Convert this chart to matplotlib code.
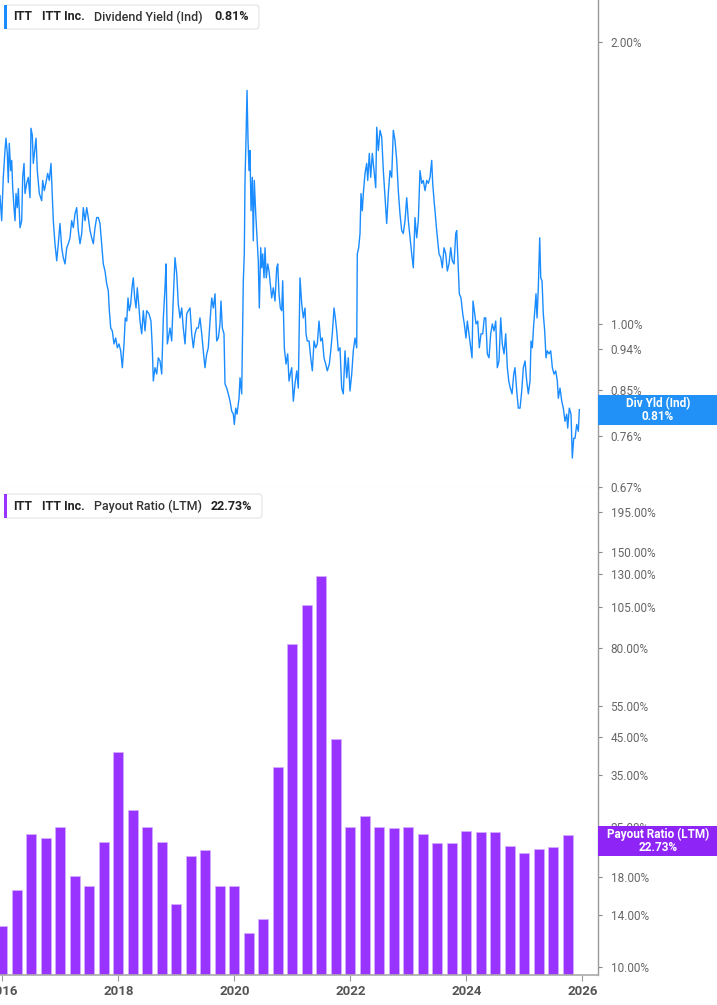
import numpy as np
import pandas as pd
import matplotlib
matplotlib.use("Agg")
import matplotlib.pyplot as plt
from matplotlib.patches import FancyBboxPatch, Rectangle
from matplotlib.ticker import NullLocator, FixedLocator

plt.rcParams["font.family"] = ["Roboto", "DejaVu Sans"]

# ---- dividend yield (%), dates as decimal years ----
div_years = [
    2015.960, 2015.989, 2016.017, 2016.046, 2016.063, 2016.086, 2016.103, 2016.120, 2016.144, 2016.162,
    2016.179, 2016.201, 2016.219, 2016.236, 2016.258, 2016.276, 2016.305, 2016.334, 2016.351, 2016.374,
    2016.391, 2016.420, 2016.448, 2016.477, 2016.494, 2016.517, 2016.534, 2016.563, 2016.581, 2016.603,
    2016.638, 2016.679, 2016.696, 2016.724, 2016.753, 2016.782, 2016.810, 2016.839, 2016.862, 2016.879,
    2016.908, 2016.938, 2016.965, 2016.994, 2017.024, 2017.051, 2017.081, 2017.110, 2017.138, 2017.167,
    2017.196, 2017.224, 2017.253, 2017.282, 2017.310, 2017.339, 2017.369, 2017.396, 2017.426, 2017.455,
    2017.482, 2017.512, 2017.541, 2017.569, 2017.598, 2017.627, 2017.655, 2017.684, 2017.713, 2017.741,
    2017.770, 2017.800, 2017.827, 2017.845, 2017.869, 2017.896, 2017.926, 2017.955, 2017.983, 2018.012,
    2018.041, 2018.069, 2018.098, 2018.120, 2018.145, 2018.167, 2018.189, 2018.213, 2018.236, 2018.258,
    2018.282, 2018.305, 2018.327, 2018.351, 2018.374, 2018.403, 2018.431, 2018.460,
    2018.489, 2018.529, 2018.563, 2018.586, 2018.603, 2018.632, 2018.662, 2018.689, 2018.719, 2018.748,
    2018.776, 2018.805, 2018.822, 2018.845, 2018.874, 2018.891, 2018.920, 2018.948, 2018.977, 2019.007,
    2019.034, 2019.063, 2019.093, 2019.120, 2019.150, 2019.179, 2019.207, 2019.236, 2019.265, 2019.293,
    2019.322, 2019.351, 2019.379, 2019.408, 2019.438, 2019.465, 2019.494, 2019.524, 2019.551, 2019.581,
    2019.610, 2019.638, 2019.667, 2019.696, 2019.724, 2019.753, 2019.770, 2019.793, 2019.822, 2019.839,
    2019.869, 2019.896, 2019.926, 2019.955, 2019.983, 2020.000, 2020.024, 2020.046, 2020.081, 2020.098,
    2020.127, 2020.155, 2020.172, 2020.184, 2020.201, 2020.219, 2020.236, 2020.253, 2020.270, 2020.288,
    2020.310, 2020.327, 2020.344, 2020.369, 2020.391, 2020.413, 2020.431, 2020.455, 2020.472, 2020.489,
    2020.512, 2020.529, 2020.551, 2020.576, 2020.598, 2020.620, 2020.644, 2020.672, 2020.701, 2020.731,
    2020.748, 2020.770, 2020.793, 2020.817, 2020.834, 2020.862, 2020.891, 2020.920, 2020.943, 2020.965,
    2020.989, 2021.017,
    2021.046, 2021.076, 2021.103, 2021.132, 2021.162, 2021.189, 2021.219, 2021.236, 2021.258, 2021.288,
    2021.317, 2021.345, 2021.374, 2021.403, 2021.431, 2021.460, 2021.489, 2021.517, 2021.546, 2021.576,
    2021.603, 2021.638, 2021.662, 2021.689, 2021.719, 2021.741, 2021.765, 2021.793, 2021.822, 2021.851,
    2021.879, 2021.908, 2021.938, 2021.965, 2021.994, 2022.024, 2022.051, 2022.081, 2022.110, 2022.120,
    2022.144, 2022.167, 2022.184, 2022.206, 2022.224, 2022.253, 2022.282, 2022.300, 2022.327, 2022.351,
    2022.379, 2022.408, 2022.438, 2022.455, 2022.483, 2022.512, 2022.541, 2022.569, 2022.598, 2022.627,
    2022.655, 2022.684, 2022.713, 2022.741, 2022.770, 2022.800, 2022.827, 2022.856, 2022.886, 2022.913,
    2022.943, 2022.972, 2023.000, 2023.029, 2023.058, 2023.086, 2023.115, 2023.144, 2023.172, 2023.201,
    2023.231, 2023.258, 2023.288, 2023.317, 2023.345, 2023.374, 2023.403, 2023.420, 2023.448,
    2023.460, 2023.489, 2023.529, 2023.559, 2023.586, 2023.615, 2023.645, 2023.672, 2023.701, 2023.731,
    2023.758, 2023.788, 2023.817, 2023.834, 2023.862, 2023.879, 2023.908, 2023.938, 2023.965, 2023.994,
    2024.017, 2024.046, 2024.076, 2024.098, 2024.115, 2024.138, 2024.167, 2024.196, 2024.224, 2024.253,
    2024.282, 2024.310, 2024.334, 2024.362, 2024.391, 2024.420, 2024.448, 2024.477, 2024.507, 2024.534,
    2024.563, 2024.593, 2024.620, 2024.650, 2024.679, 2024.707, 2024.731, 2024.758, 2024.788, 2024.817,
    2024.839, 2024.869, 2024.896, 2024.926, 2024.955, 2024.983, 2025.012, 2025.041, 2025.069, 2025.098,
    2025.115, 2025.138, 2025.162, 2025.184, 2025.201, 2025.219, 2025.241, 2025.265, 2025.283, 2025.305,
    2025.327, 2025.351, 2025.374, 2025.396, 2025.426, 2025.455, 2025.483, 2025.512, 2025.541, 2025.569,
    2025.586, 2025.615, 2025.645, 2025.672, 2025.701, 2025.731, 2025.748, 2025.775, 2025.805, 2025.827,
    2025.851, 2025.874, 2025.903, 2025.931, 2025.948,
]
div_yield = [
    1.371, 1.289, 1.435, 1.532, 1.579, 1.521, 1.416, 1.559, 1.458, 1.495,
    1.398, 1.331, 1.289, 1.378, 1.331, 1.395, 1.267, 1.289, 1.434, 1.484,
    1.378, 1.413, 1.434, 1.364, 1.618, 1.590, 1.484, 1.544, 1.579, 1.458,
    1.378, 1.354, 1.423, 1.388, 1.416, 1.448, 1.423, 1.484, 1.364, 1.289,
    1.218, 1.168, 1.218, 1.280, 1.206, 1.177, 1.159, 1.206, 1.218, 1.236,
    1.289, 1.267, 1.311, 1.331, 1.258, 1.218, 1.249, 1.331, 1.289, 1.331,
    1.299, 1.258, 1.236, 1.218, 1.267, 1.299, 1.299, 1.280, 1.218, 1.159,
    1.139, 1.104, 1.085, 1.033, 0.990, 0.983, 0.952, 0.966, 0.943, 0.952,
    0.936, 0.898, 0.952, 1.015, 1.007, 1.066, 1.033, 1.050, 1.093, 1.120,
    1.066, 1.040, 1.093, 1.050, 1.007, 0.976, 1.033, 0.983,
    1.033, 1.025, 1.007, 0.943, 0.869, 0.898, 0.884, 0.920, 0.913, 0.884,
    1.015, 1.093, 1.159, 0.952, 0.976, 0.990, 0.959, 1.066, 1.177, 1.131,
    1.050, 1.015, 1.040, 0.990, 0.952, 1.025, 1.033, 1.040, 0.976, 0.943,
    0.976, 0.990, 0.990, 1.015, 0.976, 0.936, 0.898, 0.929, 0.943, 1.007,
    1.066, 1.040, 1.077, 0.959, 0.966, 1.000, 1.058, 0.990, 0.976, 0.863,
    0.854, 0.842, 0.827, 0.807, 0.801, 0.781, 0.813, 0.801, 0.833, 0.876,
    0.842, 1.112, 1.188, 1.423, 1.571, 1.776, 1.571, 1.458, 1.532, 1.321,
    1.434, 1.227, 1.423, 1.311, 1.236, 1.168, 1.040, 1.206, 1.148, 1.188,
    1.120, 1.206, 1.120, 1.159, 1.139, 1.104, 1.066, 1.093, 1.058, 1.148,
    1.159, 1.077, 1.040, 1.033, 1.112, 0.943, 0.906, 0.929, 0.869, 0.884,
    0.898, 0.827,
    0.863, 0.891, 0.854, 1.120, 1.050, 1.015, 1.040, 0.976, 0.959, 0.959,
    0.920, 0.891, 0.959, 0.943, 0.952, 1.007, 0.959, 0.966, 0.920, 0.906,
    0.891, 0.906, 0.936, 0.976, 1.040, 1.015, 0.983, 0.936, 0.943, 0.854,
    0.842, 0.936, 0.876, 0.920, 0.848, 0.884, 0.936, 0.966, 0.943, 1.188,
    1.206, 1.249, 1.378, 1.321, 1.378, 1.448, 1.484, 1.423, 1.521, 1.434,
    1.521, 1.458, 1.398, 1.622, 1.532, 1.610, 1.583, 1.458, 1.364, 1.280,
    1.378, 1.458, 1.434, 1.610, 1.571, 1.495, 1.388, 1.311, 1.258, 1.249,
    1.289, 1.364, 1.289, 1.236, 1.188, 1.148, 1.299, 1.236, 1.289, 1.458,
    1.413, 1.423, 1.388, 1.423, 1.413, 1.434, 1.495, 1.413, 1.344,
    1.321, 1.258, 1.188, 1.177, 1.148, 1.206, 1.188, 1.139, 1.159, 1.206,
    1.168, 1.159, 1.249, 1.258, 1.139, 1.077, 1.066, 1.025, 1.000, 0.966,
    1.007, 0.976, 0.943, 0.920, 1.058, 1.033, 1.000, 1.007, 0.943, 0.976,
    0.976, 1.015, 1.015, 0.929, 0.920, 0.976, 1.000, 0.983, 1.007, 0.898,
    0.913, 1.015, 0.952, 0.929, 0.976, 0.898, 0.869, 0.854, 0.842, 0.884,
    0.898, 0.848, 0.813, 0.813, 0.848, 0.898, 0.913, 0.869, 0.842, 0.869,
    0.959, 0.943, 1.000, 1.040, 1.077, 1.015, 1.093, 1.236, 1.120, 1.112,
    1.025, 0.983, 0.920, 0.936, 0.929, 0.936, 0.898, 0.884, 0.891, 0.869,
    0.833, 0.854, 0.827, 0.813, 0.787, 0.801, 0.774, 0.813, 0.801, 0.719,
    0.755, 0.755, 0.781, 0.768, 0.810,
]

# ---- payout ratio (LTM, %), one bar per quarter end ----
payout_dates = pd.date_range("2015-12-31", periods=40, freq="QE")
payout_ratio = [
    12.1, 15.5, 22.8, 22.2, 23.9, 17.1, 16.0, 21.6, 39.8, 26.8,
    23.9, 21.6, 14.1, 19.7, 20.4, 16.0, 16.0, 11.5, 12.65, 35.9,
    81.1, 105.2, 127.0, 43.2, 23.9, 25.8, 24.0, 23.8, 23.9, 22.8,
    21.5, 21.5, 23.3, 23.2, 23.1, 21.1, 20.1, 20.6, 20.9, 22.73,
]

yield_ticks = [0.67, 0.76, 0.85, 0.94, 1.00, 2.00]
payout_ticks = [10, 14, 18, 25, 35, 45, 55, 80, 105, 130, 150, 195]
year_ticks = [2016, 2018, 2020, 2022, 2024, 2026]

last_yield = "0.81%"
last_payout = "22.73%"


def to_year(d):
    return d.year + (d.dayofyear) / (366 if d.is_leap_year else 365)


payout_x = [to_year(d) for d in payout_dates]

BLUE = "#1a8cff"
PURPLE = "#9933ff"
W, H = 717, 1005

fig = plt.figure(figsize=(W / 100, H / 100), dpi=100)
ax1 = fig.add_axes([0, 1 - 488 / H, 598 / W, 488 / H])
ax2 = fig.add_axes([0, 1 - 975 / H, 598 / W, (975 - 488) / H])

xlim = (2015.96, 2026.27)

# top panel: dividend yield line
ax1.plot(div_years, div_yield, color=BLUE, linewidth=1.0)
ax1.set_yscale("log")
ax1.set_ylim(0.668, 2.218)
ax1.set_xlim(*xlim)

# bottom panel: payout ratio bars
ax2.bar(payout_x, payout_ratio, width=0.172, bottom=1, color=PURPLE,
        edgecolor="#d6b0ff", linewidth=0.5)
ax2.set_yscale("log")
ax2.set_ylim(9.49, 228)
ax2.set_xlim(*xlim)

for ax, ticks in [(ax1, yield_ticks), (ax2, payout_ticks)]:
    ax.yaxis.tick_right()
    ax.yaxis.set_major_locator(FixedLocator(ticks))
    ax.yaxis.set_minor_locator(NullLocator())
    ax.set_yticklabels([f"{t:.2f}%" for t in ticks])
    ax.tick_params(axis="y", length=3, width=0.8, color="#888888",
                   labelcolor="#666666", labelsize=8.5, pad=6)
    ax.spines["left"].set_visible(False)
    ax.spines["top"].set_visible(False)
    ax.spines["right"].set_color("#999999")
    ax.spines["right"].set_linewidth(1.0)
    ax.set_facecolor("white")

ax1.spines["bottom"].set_color("#dddddd")
ax1.tick_params(axis="x", bottom=False, labelbottom=False)
ax1.xaxis.set_minor_locator(NullLocator())

ax2.spines["bottom"].set_color("#aaaaaa")
ax2.spines["bottom"].set_linewidth(1.2)
ax2.set_xticks(year_ticks)
ax2.set_xticklabels([str(y) for y in year_ticks], fontweight="bold")
ax2.xaxis.set_minor_locator(NullLocator())
ax2.tick_params(axis="x", length=4, color="#999999", labelcolor="#555555",
                labelsize=9.5, pad=3)


def fx(x):
    return x / W


def fy(y):
    return 1 - y / H


# legend boxes at the top-left of each panel
def legend_box(y_top, color, metric, value, right):
    box = FancyBboxPatch((fx(5), fy(y_top + 24)), fx(right - 5), 24 / H,
                         boxstyle="round,pad=0,rounding_size=0.004",
                         transform=fig.transFigure, facecolor="white",
                         edgecolor="#e3e3e3", linewidth=0.8, zorder=5)
    fig.patches.append(box)
    fig.patches.append(Rectangle((fx(4), fy(y_top + 24)), fx(3), 24 / H,
                                 transform=fig.transFigure, facecolor=color,
                                 edgecolor="none", zorder=6))
    yc = fy(y_top + 12)
    fig.text(fx(13), yc, "ITT", fontsize=9, fontweight="bold", color="#222222",
             va="center", zorder=7)
    fig.text(fx(42), yc, "ITT Inc.", fontsize=9, fontweight="bold", color="#222222",
             va="center", zorder=7)
    fig.text(fx(94), yc, metric, fontsize=9, fontweight="medium", color="#333333",
             va="center", zorder=7)
    fig.text(fx(right - 10), yc, value, fontsize=9, fontweight="bold", color="#222222",
             va="center", ha="right", zorder=7)


legend_box(5, BLUE, "Dividend Yield (Ind)", last_yield, 259)
legend_box(494, PURPLE, "Payout Ratio (LTM)", last_payout, 262)


# last-value flags on the right axis
def flag(y_top, y_bot, color, line1, line2):
    fig.patches.append(Rectangle((fx(598), fy(y_bot)), fx(717 - 598), (y_bot - y_top) / H,
                                 transform=fig.transFigure, facecolor=color,
                                 edgecolor="none", zorder=6))
    fig.text(fx(658), fy((y_top + y_bot) / 2), f"{line1}\n{line2}", ha="center",
             va="center", fontsize=8.5, fontweight="bold", color="white",
             linespacing=1.05, zorder=7)


flag(395, 425, "#2190f7", "Div Yld (Ind)", last_yield)
flag(826, 856, "#8f24f7", "Payout Ratio (LTM)", last_payout)

fig.savefig("out.png", dpi=100, facecolor="white")
